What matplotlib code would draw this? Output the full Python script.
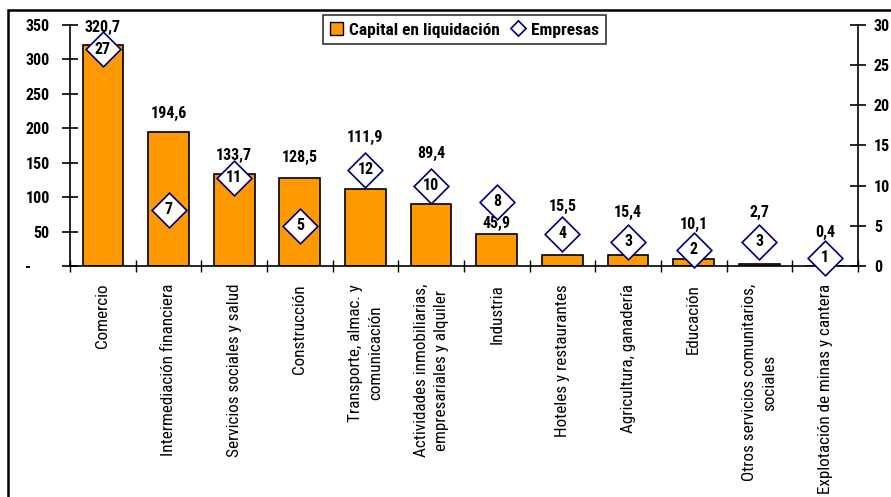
import matplotlib
matplotlib.use("Agg")
import matplotlib.pyplot as plt
from matplotlib.patches import Rectangle
from matplotlib.lines import Line2D
import numpy as np

# data ------------------------------------------------------------------------
sectores = [
    "Comercio",
    "Intermediación financiera",
    "Servicios sociales y salud",
    "Construcción",
    "Transporte, almac. y\ncomunicación",
    "Actividades inmobiliarias,\nempresariales y alquiler",
    "Industria",
    "Hoteles y restaurantes",
    "Agricultura, ganadería",
    "Educación",
    "Otros servicios comunitarios,\nsociales",
    "Explotación de minas y cantera",
]
capital = [320.7, 194.6, 133.7, 128.5, 111.9, 89.4, 45.9, 15.5, 15.4, 10.1, 2.7, 0.4]
empresas = [27, 7, 11, 5, 12, 10, 8, 4, 3, 2, 3, 1]
# where the capital labels sit (left axis units), moved by hand in the original
label_y = [347, 222, 160, 157, 186, 163, 62, 86, 78, 61, 78, 49]

plt.rcParams['font.family'] = ['Roboto Condensed', 'DejaVu Sans']

fig = plt.figure(figsize=(8.91, 4.97), dpi=100)
ax = fig.add_axes([0.0786, 0.4648, 0.9628 - 0.0786, 0.9497 - 0.4648])
ax2 = ax.twinx()

x = np.arange(len(sectores))
ax.bar(x, capital, width=0.62, color='#FF9900', edgecolor='black', linewidth=1.2, zorder=2)
ax.set_xlim(-0.5, len(sectores) - 0.5)
ax.set_ylim(0, 350)
ax.set_yticks(np.arange(0, 351, 50))
ax.set_yticklabels(['-     '] + [str(v) for v in range(50, 351, 50)])

for xi, v, ly in zip(x, capital, label_y):
    ax.text(xi, ly, f"{v:.1f}".replace('.', ','), ha='center', va='center',
            fontsize=11.5, fontweight='bold', zorder=5)

ax2.set_ylim(0, 30)
ax2.set_yticks(np.arange(0, 31, 5))
ax2.plot(x, empresas, linestyle='none', marker=(4, 0, 0), markersize=25,
         markerfacecolor='white', markeredgecolor='#000080', markeredgewidth=1.2,
         zorder=3, clip_on=False)
for xi, v in zip(x, empresas):
    ax2.text(xi, v, str(v), ha='center', va='center', fontsize=11.5,
             fontweight='bold', zorder=4)

# axes styling ------------------------------------------------------------------
for a in (ax, ax2):
    a.spines['top'].set_visible(False)
ax.spines['right'].set_visible(False)
ax2.spines['left'].set_visible(False)
ax2.spines['bottom'].set_visible(False)
for s in ('left', 'bottom'):
    ax.spines[s].set_linewidth(1.2)
ax2.spines['right'].set_linewidth(1.2)

ax.tick_params(axis='y', direction='inout', length=11, width=1.2, pad=9, labelsize=11.5)
ax2.tick_params(axis='y', direction='inout', length=11, width=1.2, pad=6, labelsize=11.5)
ax.set_xticks(np.arange(-0.5, len(sectores) + 0.5, 1))
ax.tick_params(axis='x', direction='inout', length=9, width=1.0, labelbottom=False)
for lbl in ax.get_yticklabels() + ax2.get_yticklabels():
    lbl.set_fontweight('bold')

for xi, name in zip(x, sectores):
    ax.text(xi, -26, name, rotation=90, ha='center', va='top', fontsize=12.3,
            fontweight='normal', multialignment='center', linespacing=1.4,
            clip_on=False)

# legend ------------------------------------------------------------------------
handles = [
    Rectangle((0, 0), 1, 1, facecolor='#FF9900', edgecolor='black', linewidth=1),
    Line2D([], [], linestyle='none', marker=(4, 0, 0), markersize=11,
           markerfacecolor='white', markeredgecolor='#000080', markeredgewidth=1.2),
]
leg = fig.legend(handles, ['Capital en liquidación', 'Empresas'], loc='center',
                 bbox_to_anchor=(0.521, 0.94), ncol=2, frameon=True, fancybox=False,
                 handlelength=0.75, handleheight=0.75, handletextpad=0.35,
                 columnspacing=0.7, borderpad=0.4, borderaxespad=0,
                 prop={'weight': 'bold', 'size': 12.5})
leg.get_frame().set_edgecolor('black')
leg.get_frame().set_linewidth(1.2)

# outer chart border
fig.patches.append(Rectangle((8 / 891, -0.1), 1.2, 1.1 - 10 / 497,
                             transform=fig.transFigure, fill=False,
                             edgecolor='black', linewidth=1.8))

fig.savefig('out.png', dpi=100)
